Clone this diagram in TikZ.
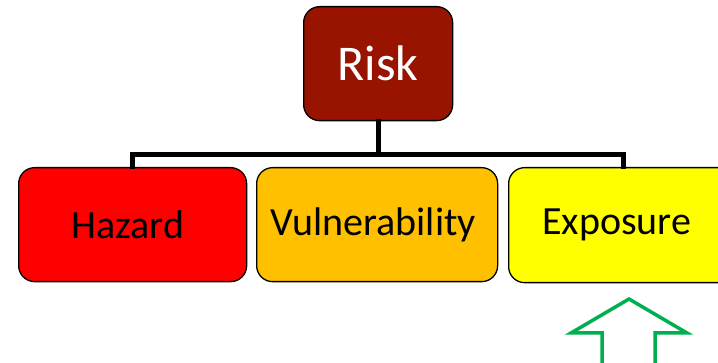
\documentclass[tikz,border=0pt]{standalone}
\usepackage{fontspec}
\setmainfont{Carlito}
\definecolor{riskred}{RGB}{152,20,0}
\definecolor{hazred}{RGB}{255,0,0}
\definecolor{vulorange}{RGB}{255,192,0}
\definecolor{expyellow}{RGB}{255,255,0}
\definecolor{arrgreen}{RGB}{0,176,80}
\begin{document}
\begin{tikzpicture}[x=1pt,y=-1pt,
  box/.style={draw=black,line width=1.3pt,rounded corners=16pt,anchor=north west,inner sep=0pt},
  conn/.style={line width=5pt,line cap=rect}]
\useasboundingbox (0,0) rectangle (718,363);
\node[box,fill=riskred,minimum width=149pt,minimum height=114pt,text=white,font=\fontsize{50}{56}\selectfont] (risk) at (303,6) {Risk};
\node[box,fill=hazred,minimum width=228pt,minimum height=114pt,font=\fontsize{40}{46}\selectfont] (haz) at (18,167) {Hazard\kern10pt};
\node[box,fill=vulorange,minimum width=241pt,minimum height=114pt,font=\fontsize{40}{46}\selectfont] (vul) at (256,167) {Vulnerability\kern8pt};
\node[box,fill=expyellow,minimum width=230pt,minimum height=115pt,font=\fontsize{40}{46}\selectfont] (exp) at (508,167) {Exposure\kern14pt};
\coordinate (bar) at (377,155);
\draw[conn] (risk.south) -- (risk.south |- bar);
\draw[conn] (haz.north) |- (bar) -| (exp.north);
\draw[arrgreen,line width=3.5pt,line join=miter]
  (629,299) -- (687,333) -- (655,333) -- (655,370) -- (602,370) -- (602,333) -- (571,333) -- cycle;
\end{tikzpicture}
\end{document}
